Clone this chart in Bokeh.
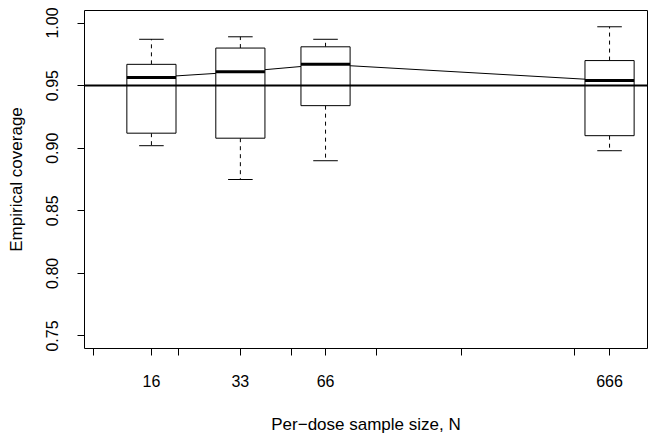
import math
from bokeh.plotting import figure
from bokeh.models import (Range1d, FixedTicker, CustomJSTickFormatter, PrintfTickFormatter,
                          Span, ColumnDataSource)
from bokeh.embed import file_html
from bokeh.resources import INLINE

# ---- data ----
sizes = [16, 33, 66, 666]
upper_whisker = [0.987, 0.989, 0.987, 0.997]
q3 = [0.967, 0.980, 0.981, 0.970]
medians = [0.9565, 0.961, 0.967, 0.954]
q1 = [0.912, 0.908, 0.934, 0.910]
lower_whisker = [0.902, 0.875, 0.890, 0.898]
reference_level = 0.95
extra_ticks = [10, 20, 50, 100, 200, 500]
y_ticks = [0.75, 0.80, 0.85, 0.90, 0.95, 1.00]

FONT = "Liberation Sans"
box_half = math.exp(0.2)
cap_half = math.exp(0.1)

src = ColumnDataSource(dict(
    n=sizes,
    left=[s / box_half for s in sizes],
    right=[s * box_half for s in sizes],
    cap_l=[s / cap_half for s in sizes],
    cap_r=[s * cap_half for s in sizes],
    uw=upper_whisker, q3=q3, med=medians, q1=q1, lw=lower_whisker,
))

p = figure(width=654, height=436, x_axis_type="log",
           x_range=Range1d(9.28, 907), y_range=Range1d(0.74, 1.01),
           output_backend="svg", toolbar_location=None,
           min_border_left=84, min_border_right=7, min_border_top=10, min_border_bottom=88)

p.background_fill_color = "white"
p.border_fill_color = "white"
p.outline_line_color = "black"
p.outline_line_width = 1
p.outline_line_alpha = 1
p.xgrid.visible = False
p.ygrid.visible = False

# connecting line of medians
p.line(x="n", y="med", source=src, line_color="black", line_width=1)

# whiskers
p.segment(x0="n", y0="q3", x1="n", y1="uw", source=src, line_color="black",
          line_width=1, line_dash="4 4")
p.segment(x0="n", y0="q1", x1="n", y1="lw", source=src, line_color="black",
          line_width=1, line_dash="4 4")
p.segment(x0="cap_l", y0="uw", x1="cap_r", y1="uw", source=src, line_color="black", line_width=1)
p.segment(x0="cap_l", y0="lw", x1="cap_r", y1="lw", source=src, line_color="black", line_width=1)

# boxes
p.quad(left="left", right="right", bottom="q1", top="q3", source=src,
       fill_color="white", line_color="black", line_width=1)

# reference line
p.add_layout(Span(location=reference_level, dimension="width", line_color="black", line_width=2))

# medians
p.segment(x0="left", y0="med", x1="right", y1="med", source=src, line_color="black", line_width=3)

# axes
xa = p.xaxis[0]
xa.ticker = FixedTicker(ticks=sorted(extra_ticks + sizes), minor_ticks=[])
xa.formatter = CustomJSTickFormatter(args=dict(vals=sizes),
                                     code="const t = Math.round(tick); return vals.includes(t) ? String(t) : '';")
ya = p.yaxis[0]
ya.ticker = FixedTicker(ticks=y_ticks, minor_ticks=[])
ya.formatter = PrintfTickFormatter(format="%.2f")
ya.major_label_orientation = "vertical"

xa.axis_label = "Per\u2212dose sample size, N"
ya.axis_label = "Empirical coverage"

for ax in (xa, ya):
    ax.axis_line_color = None
    ax.major_tick_line_color = "black"
    ax.major_tick_in = 0
    ax.major_tick_out = 7
    ax.minor_tick_line_color = None
    ax.major_label_text_font = FONT
    ax.major_label_text_font_size = "16px"
    ax.major_label_text_color = "black"
    ax.axis_label_text_font = FONT
    ax.axis_label_text_font_size = "17px"
    ax.axis_label_text_font_style = "normal"
    ax.axis_label_text_color = "black"

xa.major_label_standoff = 19
xa.axis_label_standoff = 25
ya.major_label_standoff = 19
ya.axis_label_standoff = 18

open("out.html", "w").write(file_html(p, INLINE))
